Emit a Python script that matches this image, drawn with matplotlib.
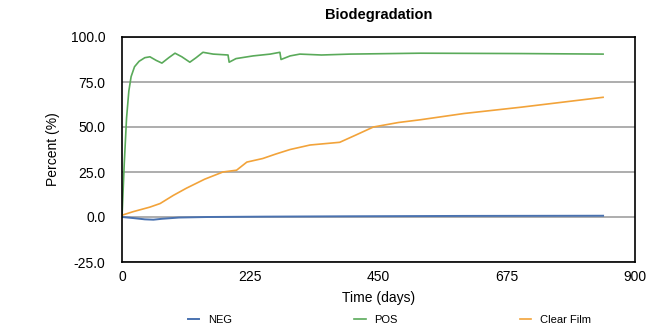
import matplotlib
matplotlib.use("Agg")
import matplotlib.pyplot as plt

plt.rcParams['font.family'] = ['Liberation Sans', 'DejaVu Sans']

# data
neg_days = [0, 20, 40, 55, 70, 100, 150, 250, 400, 600, 844]
neg_vals = [0.0, -0.6, -1.3, -1.5, -1.0, -0.3, 0.0, 0.2, 0.4, 0.6, 0.7]

pos_days = [0, 4, 8, 12, 16, 22, 30, 40, 49, 60, 70, 82, 93, 105, 119, 130, 142, 160,
            186, 188, 200, 230, 260, 277, 279, 295, 312, 350, 400, 523, 700, 844]
pos_vals = [0.0, 30.0, 55.0, 70.0, 78.0, 83.5, 86.5, 88.5, 89.0, 87.0, 85.5, 88.5, 91.0,
            89.0, 86.0, 88.5, 91.5, 90.5, 90.0, 86.0, 88.0, 89.5, 90.5, 91.5, 87.5, 89.5,
            90.5, 90.0, 90.5, 91.0, 90.8, 90.5]

film_days = [0, 20, 49, 67, 90, 113, 145, 177, 201, 219, 247, 270, 295, 330, 382,
             410, 441, 485, 523, 600, 700, 844]
film_vals = [1.0, 3.0, 5.5, 7.5, 12.0, 16.0, 21.0, 25.0, 26.0, 30.5, 32.5, 35.0, 37.5,
             40.0, 41.5, 45.5, 50.0, 52.5, 54.0, 57.5, 61.0, 66.5]

x_ticks = [0, 225, 450, 675, 900]
y_ticks = [-25, 0, 25, 50, 75, 100]

fig = plt.figure(figsize=(6.57, 3.35), dpi=100)
ax = fig.add_axes([122 / 657, 1 - 262 / 335, (635 - 122) / 657, (262 - 37) / 335])

ax.plot(neg_days, neg_vals, color="#4a72b0", lw=1.4, label="NEG")
ax.plot(pos_days, pos_vals, color="#5aaa5a", lw=1.2, label="POS")
ax.plot(film_days, film_vals, color="#f2a33a", lw=1.2, label="Clear Film")

ax.set_xlim(0, 900)
ax.set_ylim(-25, 100)
ax.set_xticks(x_ticks)
ax.set_xticklabels([str(t) for t in x_ticks])
ax.set_yticks(y_ticks)
ax.set_yticklabels([f"{t:.1f}" for t in y_ticks])
ax.yaxis.grid(True, color="#a0a0a0", lw=1.2)
ax.set_axisbelow(True)
ax.tick_params(axis="y", length=0, labelsize=10, pad=12)
ax.tick_params(axis="x", length=0, labelsize=10, pad=6)
for s in ax.spines.values():
    s.set_color("black")
    s.set_linewidth(1.2)

ax.set_title("Biodegradation", fontsize=10.5, fontweight="bold", pad=13)
ax.set_xlabel("Time (days)", fontsize=10, labelpad=5)
ax.set_ylabel("Percent (%)", fontsize=10, labelpad=8)

fig.legend(loc="lower center", bbox_to_anchor=(0.593, 0.0), ncol=3, frameon=False,
           fontsize=8, handlelength=1.0, columnspacing=11.0)

fig.savefig("out.png", dpi=100)
